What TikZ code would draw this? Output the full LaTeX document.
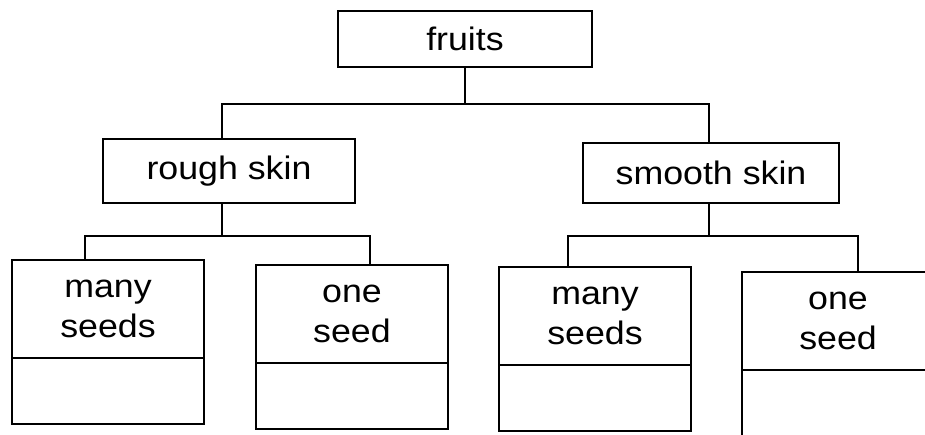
\documentclass[tikz,border=0pt]{standalone}
\usepackage{fontspec}
\setmainfont{Liberation Sans}[FakeStretch=1.1]
\usetikzlibrary{positioning}

\begin{document}
\begin{tikzpicture}[
  x=1pt, y=-1pt,
  node distance=0pt,
  box/.style={draw, line width=1.8pt, outer sep=0pt, inner sep=0pt,
              align=center, font=\fontsize{32.5}{40}\selectfont},
  head/.style={box, minimum width=254pt, minimum height=60pt},
  seedbox/.style={box, minimum width=192pt, minimum height=98pt},
  notebox/.style={box, minimum width=192pt, minimum height=66pt},
  link/.style={line width=1.8pt}
]
  \useasboundingbox (0,0) rectangle (925,434);

  % classes
  \node[head, minimum height=56pt] (fruits) at (465,39) {fruits};
  \node[head, minimum height=64pt, minimum width=252pt] (rough) at (229,171) {rough skin};
  \node[head, minimum width=256pt] (smooth) at (711,173) {smooth skin};

  % seed boxes with an empty part below
  \node[seedbox] (manyL) at (108,309) {many\\seeds};
  \node[notebox, below=of manyL] (manyLb) {};
  \node[seedbox] (oneL) at (352,314) {one\\seed};
  \node[notebox, below=of oneL] (oneLb) {};
  \node[seedbox] (manyR) at (595,316) {many\\seeds};
  \node[notebox, below=of manyR] (manyRb) {};
  \node[seedbox] (oneR) at (838,321) {one\\seed};
  \node[notebox, below=of oneR] (oneRb) {};

  % bus lines
  \coordinate (busTop) at (0,104);
  \coordinate (busL) at (0,236);
  \coordinate (busR) at (0,236);

  \draw[link] (fruits.south) -- (fruits.south |- busTop);
  \draw[link] ([xshift=-7pt]rough.north) |- ([xshift=-2pt]smooth.north |- busTop)
    -- ([xshift=-2pt]smooth.north);

  \draw[link] ([xshift=-7pt]rough.south) -- ([xshift=-7pt]rough.south |- busL);
  \draw[link] ([xshift=-23pt]manyL.north) |- ([xshift=18pt]oneL.north |- busL)
    -- ([xshift=18pt]oneL.north);

  \draw[link] ([xshift=-2pt]smooth.south) -- ([xshift=-2pt]smooth.south |- busR);
  \draw[link] ([xshift=-27pt]manyR.north) |- ([xshift=20pt]oneR.north |- busR)
    -- ([xshift=20pt]oneR.north);
\end{tikzpicture}
\end{document}
